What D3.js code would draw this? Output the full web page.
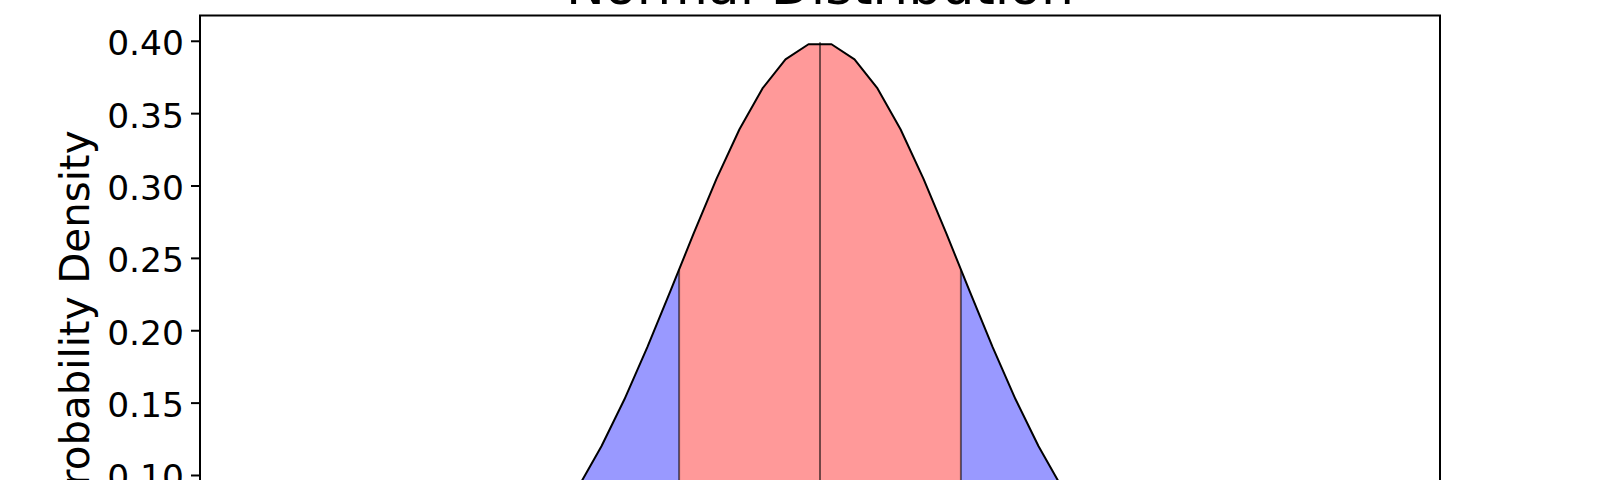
<!DOCTYPE html>
<html>
<head>
<meta charset="utf-8">
<script src="https://cdn.jsdelivr.net/npm/d3@7"></script>
<style>
  html, body { margin: 0; padding: 0; background: #fff; overflow: hidden; }
  svg { display: block; font-family: "DejaVu Sans", sans-serif; }
</style>
</head>
<body>
<svg id="chart" width="1600" height="480"></svg>
<script>
// ---- data (sampled curve, 50 points from -4 to 4) ----
const xValues = [
  -4.000000, -3.836735, -3.673469, -3.510204, -3.346939, -3.183673, -3.020408, -2.857143,
  -2.693878, -2.530612, -2.367347, -2.204082, -2.040816, -1.877551, -1.714286, -1.551020,
  -1.387755, -1.224490, -1.061224, -0.897959, -0.734694, -0.571429, -0.408163, -0.244898,
  -0.081633, 0.081633, 0.244898, 0.408163, 0.571429, 0.734694, 0.897959, 1.061224,
  1.224490, 1.387755, 1.551020, 1.714286, 1.877551, 2.040816, 2.204082, 2.367347,
  2.530612, 2.693878, 2.857143, 3.020408, 3.183673, 3.346939, 3.510204, 3.673469,
  3.836735, 4.000000
];
const densityValues = [
  0.000134, 0.000254, 0.000468, 0.000842, 0.001474, 0.002511, 0.004168, 0.006734,
  0.010593, 0.016227, 0.024204, 0.035157, 0.049717, 0.068458, 0.091783, 0.119819,
  0.152305, 0.188506, 0.227173, 0.266574, 0.304578, 0.338849, 0.367057, 0.387156,
  0.397615, 0.397615, 0.387156, 0.367057, 0.338849, 0.304578, 0.266574, 0.227173,
  0.188506, 0.152305, 0.119819, 0.091783, 0.068458, 0.049717, 0.035157, 0.024204,
  0.016227, 0.010593, 0.006734, 0.004168, 0.002511, 0.001474, 0.000842, 0.000468,
  0.000254, 0.000134
];
// band boundaries (x) and the density at each boundary
const innerBand = [-1, 1];
const outerBand = [-2, 2];
const boundaryX = [-2, -1, 0, 1, 2];
const boundaryDensity = [0.053991, 0.241971, 0.398942, 0.241971, 0.053991];
const markerX = [-1, 0, 1];
const yTicks = [0.00, 0.05, 0.10, 0.15, 0.20, 0.25, 0.30, 0.35, 0.40];
const yTickLabels = ["0.00", "0.05", "0.10", "0.15", "0.20", "0.25", "0.30", "0.35", "0.40"];
const titleText = "Normal Distribution";
const yLabelText = "Probability Density";

(function () {
  // ---- layout ----
  const svg = d3.select("#chart");
  const pLeft = 200, pRight = 1440, pTop = 15.5, pBottom = 648.5;
  const x = d3.scaleLinear().domain([-4.4, 4.4]).range([pLeft, pRight]);
  const y = d3.scaleLinear().domain([-0.01988, 0.41746]).range([pBottom, pTop]);

  const pts = xValues.map((v, i) => ({ x: v, y: densityValues[i] }));
  const bnd = x0 => ({ x: x0, y: boundaryDensity[boundaryX.indexOf(x0)] });

  function band(a, b) {
    return [bnd(a)].concat(pts.filter(p => p.x > a && p.x < b)).concat([bnd(b)]);
  }

  const area = d3.area().x(d => x(d.x)).y0(y(0)).y1(d => y(d.y));
  const line = d3.line().x(d => x(d.x)).y(d => y(d.y));

  const g = svg.append("g");

  // outer (blue) bands
  g.append("path").datum(band(outerBand[0], innerBand[0]))
    .attr("d", area).attr("fill", "rgb(153,153,255)");
  g.append("path").datum(band(innerBand[1], outerBand[1]))
    .attr("d", area).attr("fill", "rgb(153,153,255)");
  // inner (red) band
  g.append("path").datum(band(innerBand[0], innerBand[1]))
    .attr("d", area).attr("fill", "rgb(255,153,153)");

  // vertical marker lines
  g.selectAll("line.marker").data(markerX).enter().append("line")
    .attr("class", "marker")
    .attr("x1", d => x(d)).attr("x2", d => x(d))
    .attr("y1", y(0)).attr("y2", d => y(boundaryDensity[boundaryX.indexOf(d)]))
    .attr("stroke", "#000").attr("stroke-opacity", 0.55).attr("stroke-width", 2);

  // curve
  g.append("path").datum(pts).attr("d", line)
    .attr("fill", "none").attr("stroke", "#000").attr("stroke-width", 2)
    .attr("stroke-linejoin", "round");

  // frame
  svg.append("rect").attr("x", pLeft).attr("y", pTop)
    .attr("width", pRight - pLeft).attr("height", pBottom - pTop)
    .attr("fill", "none").attr("stroke", "#000").attr("stroke-width", 2);

  // y axis
  const yAxis = d3.axisLeft(y).tickValues(yTicks)
    .tickFormat((d, i) => yTickLabels[i]).tickSize(9).tickPadding(7);
  const ya = svg.append("g").attr("transform", `translate(${pLeft},0)`).call(yAxis);
  ya.select(".domain").remove();
  ya.selectAll(".tick line").attr("stroke", "#000").attr("stroke-width", 2);
  ya.selectAll(".tick text").attr("font-size", "34.5px").attr("fill", "#000")
    .attr("font-family", "DejaVu Sans").attr("dy", "14px");

  // title
  svg.append("text").attr("x", (pLeft + pRight) / 2).attr("y", 4)
    .attr("text-anchor", "middle").attr("font-size", "52px").attr("fill", "#000")
    .text(titleText);

  // y label
  svg.append("text")
    .attr("transform", "translate(88.5,320) rotate(-90)")
    .attr("text-anchor", "middle").attr("font-size", "40.3px").attr("fill", "#000")
    .text(yLabelText);
})();
</script>
</body>
</html>
